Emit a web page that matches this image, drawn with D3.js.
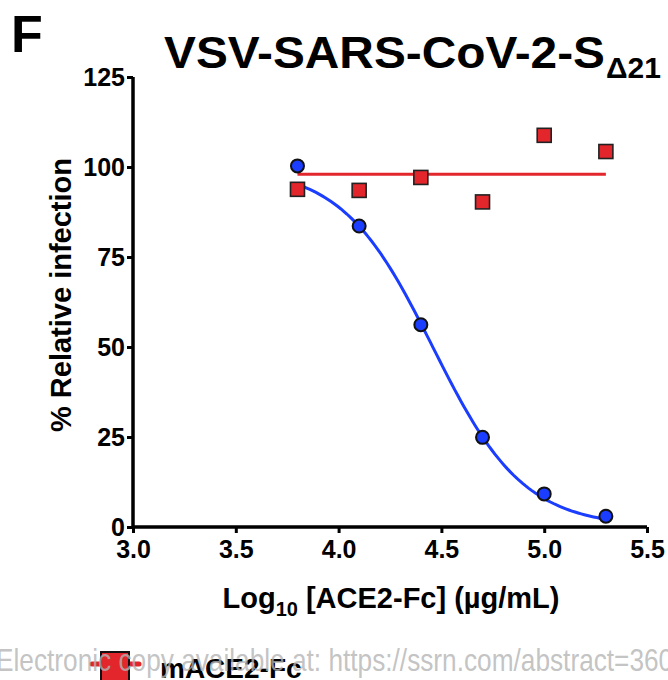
<!DOCTYPE html>
<html>
<head>
<meta charset="utf-8">
<script src="https://cdn.jsdelivr.net/npm/d3@7"></script>
<style>
  html, body { margin: 0; padding: 0; background: #fff; }
  svg { display: block; font-family: "Liberation Sans", Arial, Helvetica, sans-serif; }
</style>
</head>
<body>
<svg id="chart" width="668" height="680"></svg>
<script>
// ---- data ----
const logConc = [3.8, 4.1, 4.4, 4.7, 5.0, 5.3];
const hACE2 = [100.3, 83.6, 56.2, 24.9, 9.2, 3.0];      // blue circles
const mACE2 = [93.8, 93.5, 97.1, 90.3, 108.8, 104.3];   // red squares
const mACE2FitMean = 98.0;                               // red horizontal fit
// 4-parameter logistic fit for blue series
const fitTop = 100, fitBottom = 0, logIC50 = 4.458, hillSlope = 1.97;
const xTicks = [3.0, 3.5, 4.0, 4.5, 5.0, 5.5];
const yTicks = [0, 25, 50, 75, 100, 125];

const svg = d3.select("#chart");
const x = d3.scaleLinear().domain([3.0, 5.5]).range([133, 647]);
const y = d3.scaleLinear().domain([0, 125]).range([527, 77]);

const blue = "#1a3dff", red = "#e2262b";

// panel letter
svg.append("text").attr("x", 11).attr("y", 52)
  .attr("font-size", 52).attr("font-weight", "bold").text("F");

// title
svg.append("text").attr("x", 164).attr("y", 68)
  .attr("font-size", 45).attr("font-weight", "bold").attr("textLength", 441)
  .attr("lengthAdjust", "spacingAndGlyphs")
  .text("VSV-SARS-CoV-2-S");
svg.append("text").attr("x", 606).attr("y", 78)
  .attr("font-size", 30).attr("font-weight", "bold").text("Δ21");

// axes
const xAxis = d3.axisBottom(x).tickValues(xTicks).tickSize(6).tickPadding(7)
  .tickFormat(d3.format(".1f"));
const gx = svg.append("g").attr("transform", `translate(0,${y(0)})`).call(xAxis);
gx.select(".domain").attr("stroke", "#000").attr("stroke-width", 3.5)
  .attr("d", `M${x(3.0)},0H${x(5.5)}`);
gx.selectAll(".tick line").attr("stroke-width", 3);
gx.selectAll(".tick text").attr("font-size", 25).attr("font-weight", "bold")
  .attr("font-family", "Liberation Sans, Arial, sans-serif").attr("fill", "#000");

const yAxis = d3.axisLeft(y).tickValues(yTicks).tickSize(6).tickPadding(2);
const gy = svg.append("g").attr("transform", `translate(${x(3.0)},0)`).call(yAxis);
gy.select(".domain").attr("stroke", "#000").attr("stroke-width", 3.5)
  .attr("d", `M0,${y(125)}V${y(0) + 1.5}`);
gy.selectAll(".tick line").attr("stroke-width", 3);
gy.selectAll(".tick text").attr("font-size", 25).attr("font-weight", "bold")
  .attr("font-family", "Liberation Sans, Arial, sans-serif").attr("fill", "#000");

// axis titles
svg.append("text").attr("transform", `translate(71,295) rotate(-90)`)
  .attr("text-anchor", "middle").attr("font-size", 29).attr("font-weight", "bold")
  .text("% Relative infection");

const xt = svg.append("text").attr("x", 391).attr("y", 608)
  .attr("text-anchor", "middle").attr("font-size", 29).attr("font-weight", "bold");
xt.append("tspan").text("Log");
xt.append("tspan").attr("font-size", 20).attr("dy", 8).text("10");
xt.append("tspan").attr("dy", -8).text(" [ACE2-Fc] (µg/mL)");

// red fit line
svg.append("line")
  .attr("x1", x(logConc[0])).attr("x2", x(logConc[logConc.length - 1]))
  .attr("y1", y(mACE2FitMean)).attr("y2", y(mACE2FitMean))
  .attr("stroke", red).attr("stroke-width", 3);

// blue fitted curve
const fitX = d3.range(0, 101).map(i => logConc[0] + (logConc[logConc.length - 1] - logConc[0]) * i / 100);
const fitY = fitX.map(v => fitBottom + (fitTop - fitBottom) / (1 + Math.pow(10, (v - logIC50) * hillSlope)));
svg.append("path")
  .attr("d", d3.line().x((d, i) => x(fitX[i])).y(d => y(d))(fitY))
  .attr("fill", "none").attr("stroke", blue).attr("stroke-width", 3);

// red squares
const sq = 14;
svg.selectAll("rect.m").data(mACE2).join("rect").attr("class", "m")
  .attr("x", (d, i) => x(logConc[i]) - sq / 2).attr("y", d => y(d) - sq / 2)
  .attr("width", sq).attr("height", sq)
  .attr("fill", red).attr("stroke", "#222").attr("stroke-width", 1.6);

// blue circles
svg.selectAll("circle.h").data(hACE2).join("circle").attr("class", "h")
  .attr("cx", (d, i) => x(logConc[i])).attr("cy", d => y(d)).attr("r", 6.5)
  .attr("fill", blue).attr("stroke", "#111").attr("stroke-width", 2);

// legend (partially cut off at bottom)
svg.append("line").attr("x1", 92).attr("x2", 139).attr("y1", 664).attr("y2", 664)
  .attr("stroke", red).attr("stroke-width", 5).attr("stroke-linecap", "round");
svg.append("rect").attr("x", 101).attr("y", 652).attr("width", 28).attr("height", 30)
  .attr("fill", red).attr("stroke", "#111").attr("stroke-width", 2);
svg.append("text").attr("x", 160).attr("y", 678).attr("font-size", 28)
  .attr("font-weight", "bold").text("mACE2-Fc");

// watermark (narrow face, cut at right edge)
svg.append("text").attr("transform", "translate(-4,671) scale(0.82,1)")
  .attr("font-size", 32)
  .attr("fill", "#b4b4b4").attr("fill-opacity", 0.8)
  .text("Electronic copy available at: https://ssrn.com/abstract=3606354");
</script>
</body>
</html>
